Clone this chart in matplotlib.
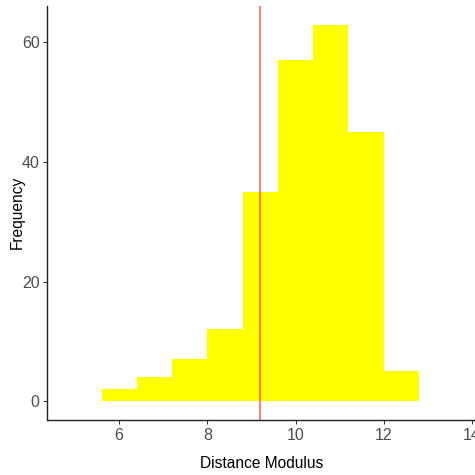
import numpy as np
import matplotlib.pyplot as plt

plt.rcParams['font.family'] = ['Liberation Sans', 'DejaVu Sans']

# histogram bins (distance modulus) and counts
bin_edges = [5.6, 6.4, 7.2, 8.0, 8.8, 9.6, 10.4, 11.2, 12.0, 12.8]
counts = [2, 4, 7, 12, 35, 57, 63, 45, 5]
vline_x = 9.2

xticks = [6, 8, 10, 12, 14]
yticks = [0, 20, 40, 60]

fig = plt.figure(figsize=(4.75, 4.75), dpi=100)
ax = fig.add_axes([0.0996, 0.1158, 0.9004, 0.8722])

lefts = np.array(bin_edges[:-1])
widths = np.diff(bin_edges)
ax.bar(lefts, counts, width=widths, align='edge', color='#FFFF00', edgecolor='none')
ax.axvline(vline_x, color='#FF4040', alpha=0.8, lw=1.2)

ax.set_xlim(4.37, 14.07)
ax.set_ylim(-3.15, 66.15)
ax.set_xticks(xticks)
ax.set_yticks(yticks)

for s in ['top', 'right']:
    ax.spines[s].set_visible(False)
for s in ['left', 'bottom']:
    ax.spines[s].set_color('#222222')
    ax.spines[s].set_linewidth(1.0)

ax.tick_params(axis='both', colors='#333333', labelcolor='#4D4D4D',
               labelsize=11.5, length=3, width=0.8, pad=2.5)

ax.set_xlabel('Distance Modulus', fontsize=11.2, color='black')
ax.set_ylabel('Frequency', fontsize=11.2, color='black')
ax.xaxis.set_label_coords(0.5, -0.087)
ax.yaxis.set_label_coords(-0.053, 0.5)

fig.savefig('out.png', dpi=100)
